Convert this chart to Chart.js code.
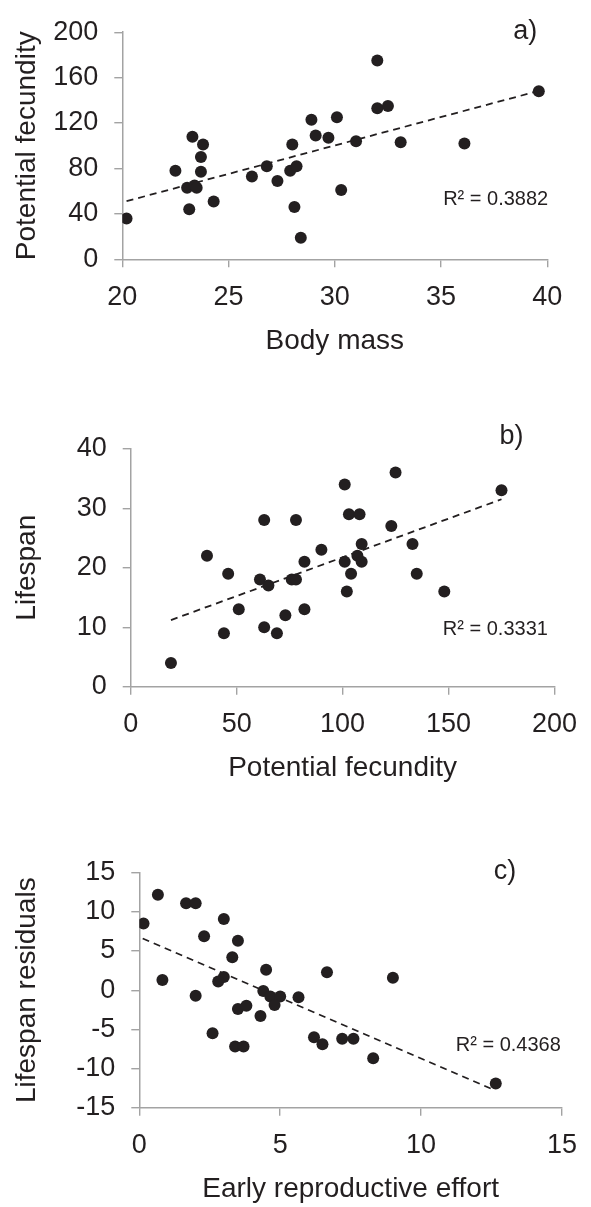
<!DOCTYPE html>
<html lang="en">
<head>
<meta charset="UTF-8">
<title>Body mass, fecundity, lifespan</title>
<script src="https://cdn.jsdelivr.net/npm/chart.js"></script>
<style>
    body { margin: 0; background: #fff; width: 591px; height: 1207px; position: relative; overflow: hidden; }
    .painel { position: absolute; left: 0; width: 591px; }
    canvas { display: block; }
</style>
</head>
<body>

<div class="painel" style="top: 0px;"><canvas id="canvas_a" width="591" height="390"></canvas></div>
<div class="painel" style="top: 390px;"><canvas id="canvas_b" width="591" height="400"></canvas></div>
<div class="painel" style="top: 790px;"><canvas id="canvas_c" width="591" height="417"></canvas></div>

<script>
    // a) body mass x potential fecundity
    const massaA = [20.2, 22.5, 23.05, 23.15, 23.3, 23.4, 23.5, 23.7, 23.7, 23.8, 24.3, 26.1, 26.8, 27.3, 27.9, 28.0,
        28.1, 28.2, 28.4, 28.9, 29.1, 29.7, 30.1, 30.3, 31.0, 32.0, 32.0, 32.5, 33.1, 36.1, 39.6];
    const fecundidadeA = [36, 78, 63, 44, 108, 65, 63, 77, 90, 101, 51, 73, 82, 69, 78, 101,
        46, 82, 19, 123, 109, 107, 125, 61, 104, 175, 133, 135, 103, 102, 148];
    const tendenciaAx = [20.2, 39.6];
    const tendenciaAy = [51.2, 148.3];
    const eixoXA = [20, 40, 5];
    const eixoYA = [0, 200, 40];

    // b) potential fecundity x lifespan
    const fecundidadeB = [19, 36, 44, 46, 51, 61, 63, 63, 65, 69, 73, 76, 78, 78, 82, 82, 90, 101, 101, 102,
        103, 104, 107, 108, 109, 109, 123, 125, 133, 135, 148, 175];
    const vidaB = [4, 22, 9, 19, 13, 18, 28, 10, 17, 9, 12, 18, 28, 18, 21, 13, 23, 34, 21, 16,
        29, 19, 22, 29, 24, 21, 27, 36, 24, 19, 16, 33];
    const tendenciaBx = [19, 175];
    const tendenciaBy = [11.2, 31.5];
    const eixoXB = [0, 200, 50];
    const eixoYB = [0, 40, 10];

    // c) early reproductive effort x lifespan residuals
    const esforcoC = [0.15, 0.66, 1.66, 2.0, 3.0, 2.3, 3.5, 3.3, 0.82, 3.0, 2.8, 4.5, 6.66, 9.0, 2.0, 4.4,
        4.65, 5.0, 4.8, 5.65, 3.5, 3.8, 4.3, 2.6, 6.2, 6.5, 7.2, 7.6, 3.4, 3.7, 8.3, 12.65];
    const residuosC = [8.5, 12.2, 11.1, 11.1, 9.1, 6.9, 6.3, 4.2, 1.3, 1.7, 1.1, 2.6, 2.3, 1.6, -0.7, -0.1,
        -0.8, -0.8, -1.9, -0.9, -2.4, -2.0, -3.3, -5.5, -6.0, -6.9, -6.2, -6.2, -7.2, -7.2, -8.7, -11.9];
    const tendenciaCx = [0.12, 12.5];
    const tendenciaCy = [6.6, -12.6];
    const eixoXC = [0, 15, 5];
    const eixoYC = [-15, 15, 5];

    const COR_TEXTO = '#231f20';
    const COR_EIXO = '#a3a3a3';
    const FONTE = '"Liberation Sans", Arial, Helvetica, sans-serif';
    const ALTURA_X = 100;

    // writes panel letter and R² inside the plot, positions in data units
    const pluginTextos = {
        id: 'textos',
        afterDraw(chart, args, opts) {
            const ctx = chart.ctx;
            ctx.save();
            ctx.fillStyle = COR_TEXTO;
            ctx.textAlign = 'left';
            ctx.textBaseline = 'middle';
            (opts.itens || []).forEach(function (t) {
                ctx.font = t.tamanho + 'px ' + FONTE;
                ctx.fillText(t.texto, chart.scales.x.getPixelForValue(t.x), chart.scales.y.getPixelForValue(t.y));
            });
            ctx.restore();
        }
    };

    function configEixo(eixo, titulo, extra) {
        return Object.assign({
            type: 'linear',
            min: eixo[0],
            max: eixo[1],
            ticks: { stepSize: eixo[2], color: COR_TEXTO, font: { family: FONTE, size: 27 } },
            grid: { drawOnChartArea: false, drawTicks: true, tickLength: 8, color: COR_EIXO, lineWidth: 1.4 },
            border: { display: true, color: COR_EIXO, width: 1.5 },
            title: { display: true, text: titulo, color: COR_TEXTO, font: { family: FONTE, size: 28 } }
        }, extra);
    }

    function criarPainel(idCanvas, xs, ys, tx, ty, eixoX, eixoY, tituloX, tituloY, caixa, textos) {
        const pontos = xs.map(function (v, i) { return { x: v, y: ys[i] }; });
        const linha = tx.map(function (v, i) { return { x: v, y: ty[i] }; });
        const canvas = document.getElementById(idCanvas);

        const eixox = configEixo(eixoX, tituloX, { afterFit: function (s) { s.height = ALTURA_X; } });
        eixox.ticks.padding = 14;
        eixox.title.padding = { top: 0, bottom: 1.2 };

        const eixoy = configEixo(eixoY, tituloY, { afterFit: function (s) { s.width = caixa.left; } });
        eixoy.ticks.padding = 16;
        eixoy.title.padding = { top: 10, bottom: 0 };

        return new Chart(canvas, {
            type: 'scatter',
            data: {
                datasets: [{
                    data: pontos,
                    pointRadius: 6,
                    pointHoverRadius: 6,
                    pointBorderWidth: 0,
                    pointBackgroundColor: COR_TEXTO
                },
                {
                    type: 'line',
                    data: linha,
                    borderColor: COR_TEXTO,
                    borderWidth: 1.8,
                    borderDash: [7, 5],
                    pointRadius: 0,
                    fill: false
                }]
            },
            options: {
                responsive: false,
                animation: false,
                layout: {
                    padding: {
                        top: caixa.top,
                        right: canvas.width - caixa.right,
                        bottom: canvas.height - caixa.bottom - ALTURA_X,
                        left: 0
                    }
                },
                plugins: {
                    legend: { display: false },
                    tooltip: { enabled: false },
                    textos: { itens: textos }
                },
                scales: { x: eixox, y: eixoy }
            },
            plugins: [pluginTextos]
        });
    }

    criarPainel('canvas_a', massaA, fecundidadeA, tendenciaAx, tendenciaAy, eixoXA, eixoYA,
        'Body mass', 'Potential fecundity',
        { left: 122.3, top: 24, right: 547.3, bottom: 259.3 },
        [{ texto: 'a)', x: 38.4, y: 201, tamanho: 27 }, { texto: 'R² = 0.3882', x: 35.1, y: 53, tamanho: 20 }]);

    criarPainel('canvas_b', fecundidadeB, vidaB, tendenciaBx, tendenciaBy, eixoXB, eixoYB,
        'Potential fecundity', 'Lifespan',
        { left: 130.7, top: 58.7, right: 557.3, bottom: 296.7 },
        [{ texto: 'b)', x: 174, y: 42.1, tamanho: 27 }, { texto: 'R² = 0.3331', x: 147.3, y: 9.6, tamanho: 20 }]);

    criarPainel('canvas_c', esforcoC, residuosC, tendenciaCx, tendenciaCy, eixoXC, eixoYC,
        'Early reproductive effort', 'Lifespan residuals',
        { left: 139.3, top: 82.7, right: 571.7, bottom: 317.7 },
        [{ texto: 'c)', x: 12.58, y: 15.1, tamanho: 27 }, { texto: 'R² = 0.4368', x: 11.23, y: -7.0, tamanho: 20 }]);
</script>
</body>
</html>
